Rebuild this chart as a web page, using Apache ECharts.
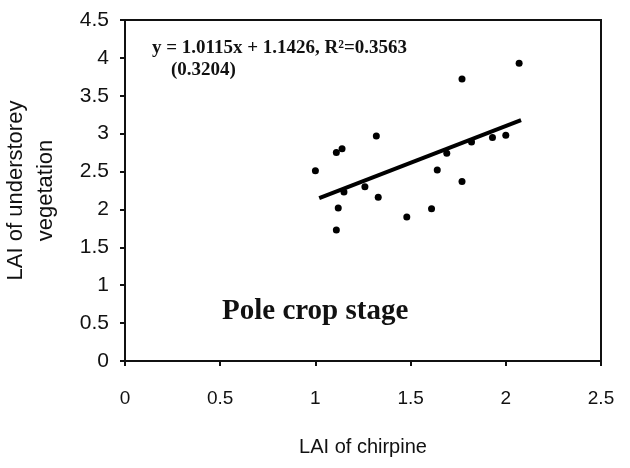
<!DOCTYPE html>
<html>
<head>
<meta charset="utf-8">
<script src="https://cdn.jsdelivr.net/npm/echarts@6/dist/echarts.min.js"></script>
<style>
html,body{margin:0;padding:0;background:#fff;}
#chart{width:630px;height:468px;}
</style>
</head>
<body>
<div id="chart"></div>
<script>
// LAI of chirpine (x) vs LAI of understorey vegetation (y)
var chirpine = [1.00, 1.11, 1.14, 1.32, 1.77, 2.07, 1.12, 1.11, 1.15, 1.26, 1.33, 1.48, 1.61, 1.64, 1.77, 1.69, 1.82, 1.93, 2.00];
var understorey = [2.51, 2.75, 2.80, 2.97, 3.72, 3.93, 2.02, 1.73, 2.23, 2.30, 2.16, 1.90, 2.01, 2.52, 2.37, 2.74, 2.89, 2.95, 2.98];
// fitted line end points
var fitX = [1.02, 2.08];
var fitY = [2.15, 3.18];
var xTicks = [0, 0.5, 1, 1.5, 2, 2.5];
var yTicks = [0, 0.5, 1, 1.5, 2, 2.5, 3, 3.5, 4, 4.5];

var chart = echarts.init(document.getElementById('chart'));

var option = {
    animation: false,
    grid: {left: 125, right: 29, top: 20, bottom: 107, outerBoundsMode: 'none', containLabel: false},
    xAxis: {
        type: 'value',
        min: xTicks[0],
        max: xTicks[xTicks.length - 1],
        interval: 0.5,
        name: 'LAI of chirpine',
        nameLocation: 'middle',
        nameGap: 76,
        nameTextStyle: {fontFamily: 'Liberation Sans', fontSize: 20, color: '#111'},
        axisLine: {lineStyle: {color: '#111', width: 2}},
        axisTick: {show: true, length: 5, lineStyle: {color: '#111', width: 2}},
        axisLabel: {fontFamily: 'Liberation Sans', fontSize: 19, color: '#111', margin: 28},
        splitLine: {show: false}
    },
    yAxis: {
        type: 'value',
        min: yTicks[0],
        max: yTicks[yTicks.length - 1],
        interval: 0.5,
        name: 'LAI of understorey\nvegetation',
        nameLocation: 'middle',
        nameGap: 64,
        nameRotate: 90,
        nameTextStyle: {fontFamily: 'Liberation Sans', fontSize: 22, color: '#111', lineHeight: 30},
        axisLine: {lineStyle: {color: '#111', width: 2}},
        axisTick: {show: true, length: 5, lineStyle: {color: '#111', width: 2}},
        axisLabel: {fontFamily: 'Liberation Sans', fontSize: 21, color: '#111', margin: 16},
        splitLine: {show: false}
    },
    graphic: [
        {type: 'rect', shape: {x: 125, y: 20, width: 476, height: 341}, style: {fill: 'none', stroke: '#111', lineWidth: 2}, silent: true},
        {type: 'text', left: 152, top: 39, style: {text: 'y = 1.0115x + 1.1426, R\u00b2=0.3563', font: 'bold 19px "Liberation Serif"', fill: '#111'}},
        {type: 'text', left: 171, top: 61, style: {text: '(0.3204)', font: 'bold 19px "Liberation Serif"', fill: '#111'}},
        {type: 'text', left: 222, top: 297, style: {text: 'Pole crop stage', font: 'bold 29px "Liberation Serif"', fill: '#111'}}
    ],
    series: [
        {
            type: 'scatter',
            data: chirpine.map(function (x, i) { return [x, understorey[i]]; }),
            symbolSize: 7,
            itemStyle: {color: '#000', opacity: 1}
        },
        {
            type: 'line',
            data: fitX.map(function (x, i) { return [x, fitY[i]]; }),
            showSymbol: false,
            lineStyle: {color: '#000', width: 4}
        }
    ]
};
chart.setOption(option);
</script>
</body>
</html>
